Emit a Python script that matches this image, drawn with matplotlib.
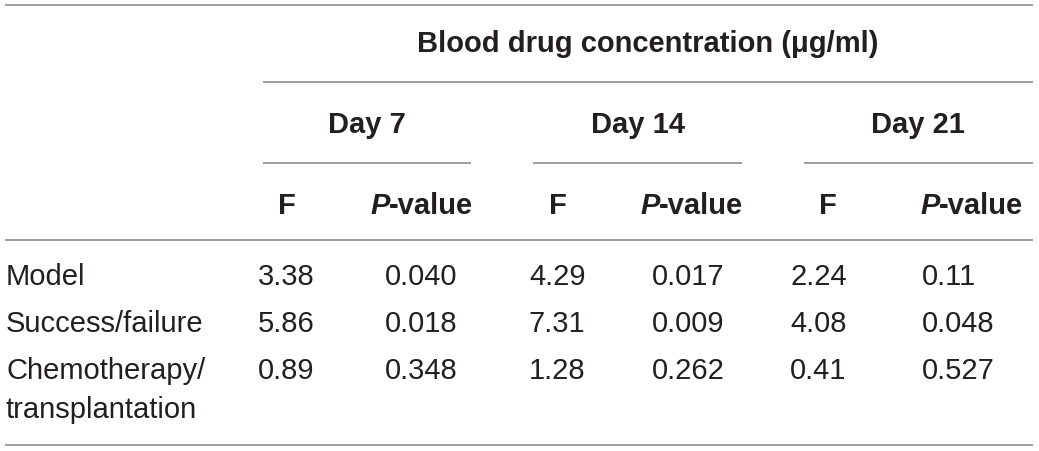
import matplotlib
matplotlib.use("Agg")
import matplotlib.pyplot as plt

# ---- data ----
title = "Blood drug concentration (μg/ml)"
days = ["Day 7", "Day 14", "Day 21"]
row_labels = ["Model", "Success/failure", "Chemotherapy/\ntransplantation"]
f_values = [
    ["3.38", "4.29", "2.24"],
    ["5.86", "7.31", "4.08"],
    ["0.89", "1.28", "0.41"],
]
p_values = [
    ["0.040", "0.017", "0.11"],
    ["0.018", "0.009", "0.048"],
    ["0.348", "0.262", "0.527"],
]

plt.rcParams["font.family"] = ["Liberation Sans", "DejaVu Sans"]
W, H = 1039, 451
fig = plt.figure(figsize=(W / 100, H / 100), dpi=100)
ax = fig.add_axes([0, 0, 1, 1])
ax.set_xlim(0, W)
ax.set_ylim(H, 0)
ax.axis("off")

txt = "#231f20"
lc = "#8c8c8c"
lw = 1.2
fs = 21

def hline(y, x0, x1):
    ax.plot([x0, x1], [y, y], color=lc, lw=lw, solid_capstyle="butt")

# rules
hline(5, 5, 1033)
hline(82, 263, 1033)
hline(163, 263, 471)
hline(163, 533, 742)
hline(163, 804, 1033)
hline(240, 5, 1033)
hline(445, 5, 1033)

# title
ax.text(648, 52, title, ha="center", va="baseline", fontsize=fs,
        fontweight="bold", color=txt)

day_centers = [367, 638, 918]
for d, cx in zip(days, day_centers):
    ax.text(cx, 133, d, ha="center", va="baseline", fontsize=fs,
            fontweight="bold", color=txt)

f_head_x = [287, 558, 828]
p_head_x = [370, 640, 920]
for fx, px in zip(f_head_x, p_head_x):
    ax.text(fx, 214, "F", ha="center", va="baseline", fontsize=fs,
            fontweight="bold", color=txt)
    t = ax.text(px, 214, "P", ha="left", va="baseline", fontsize=fs,
                fontweight="bold", fontstyle="italic", color=txt)
    ax.annotate("-value", xy=(1, 0), xycoords=t, ha="left", va="bottom",
                fontsize=fs, fontweight="bold", color=txt)

row_base = [285, 332, 379]
line_gap = 39
f_x = [258, 529, 790]
p_x = [385, 652, 922]
for i, lab in enumerate(row_labels):
    for k, part in enumerate(lab.split("\n")):
        ax.text(6, row_base[i] + k * line_gap, part, ha="left",
                va="baseline", fontsize=fs, color=txt)
    for j in range(3):
        ax.text(f_x[j], row_base[i], f_values[i][j], ha="left",
                va="baseline", fontsize=fs, color=txt)
        ax.text(p_x[j], row_base[i], p_values[i][j], ha="left",
                va="baseline", fontsize=fs, color=txt)

fig.savefig("out.png", dpi=100, facecolor="white")
